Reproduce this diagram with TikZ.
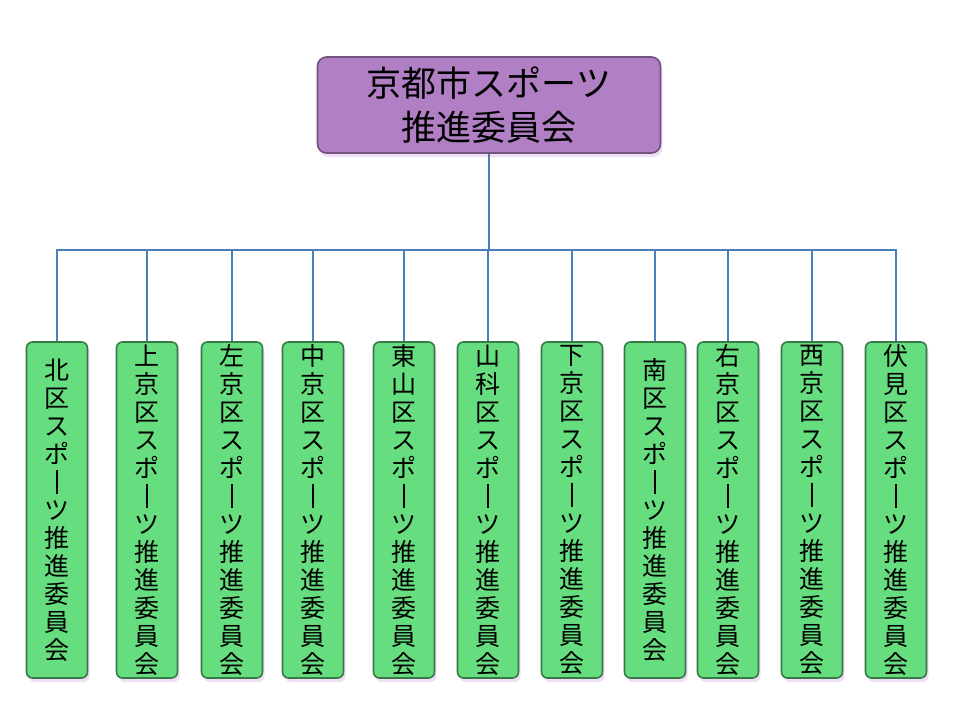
\documentclass[tikz,border=0pt]{standalone}
\usepackage{fontspec}
\setmainfont{Noto Sans CJK JP}
\usetikzlibrary{shadows,positioning}
\definecolor{topfill}{HTML}{B07FC4}
\definecolor{wardfill}{HTML}{66DE80}
\definecolor{linkblue}{HTML}{4A7EBB}
\definecolor{glow}{HTML}{E2BEEC}
\newcommand{\choon}{\rule[-0.1em]{0.1em}{0.95em}}
\newcommand{\suishin}{ス\\ポ\\\choon\\ツ\\推\\進\\委\\員\\会}
\tikzstyle{topbox}=[rectangle,rounded corners=9pt,fill=topfill,draw=topfill!65!black,line width=1.6pt,minimum width=343pt,minimum height=96pt,align=center,font=\fontsize{35}{44}\selectfont,drop shadow={shadow xshift=2pt,shadow yshift=-4pt,fill=glow}]
\tikzstyle{wardbox}=[rectangle,rounded corners=6pt,fill=wardfill,draw=wardfill!55!black,line width=1.6pt,minimum width=61pt,minimum height=336pt,inner sep=0pt,align=center,font=\fontsize{25}{28}\selectfont,drop shadow={shadow xshift=2pt,shadow yshift=-4pt,fill=glow}]
\tikzstyle{link}=[draw=linkblue,line width=2pt]

\begin{document}
\begin{tikzpicture}[x=1pt,y=-1pt]
        \useasboundingbox (0,0) rectangle (960,720);
        \node[topbox] (city) at (489,105) {京都市スポーツ\\推進委員会};
        \coordinate (bar) at (489,250);
        \foreach \n/\x/\t in {kita/57/{北\\区},kamigyo/147/{上\\京\\区},sakyo/232/{左\\京\\区},
            nakagyo/313/{中\\京\\区},higashiyama/404/{東\\山\\区},yamashina/488/{山\\科\\区},
            shimogyo/572/{下\\京\\区},minami/655/{南\\区},ukyo/728/{右\\京\\区},
            nishikyo/812/{西\\京\\区},fushimi/896/{伏\\見\\区}} {
          \node[wardbox] (\n) at (\x,510) {\t\\\suishin};
          \draw[link] (\n.north) -- (\n.north |- bar);
        }
        \draw[link] (kita.north) |- (bar) -| (fushimi.north);
        \draw[link] (city) -- (bar);
      \end{tikzpicture}
\end{document}
